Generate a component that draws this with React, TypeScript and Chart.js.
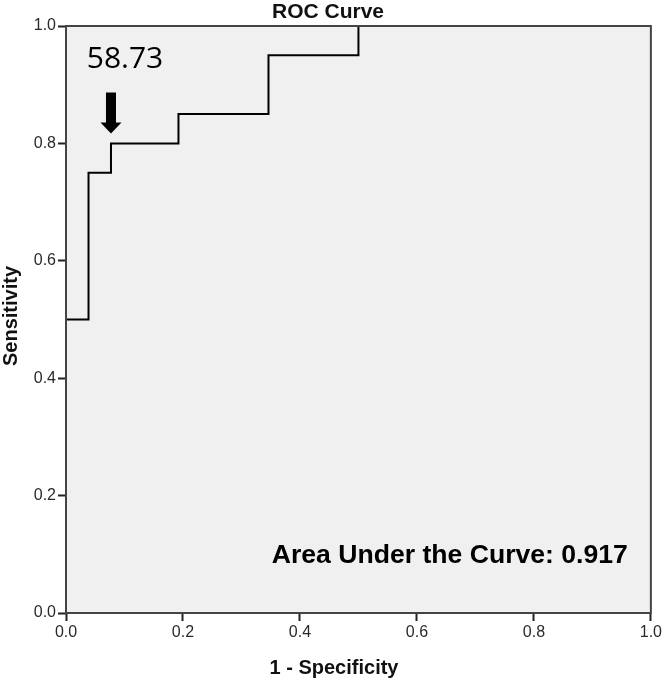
import React, { useEffect, useRef } from "react";
import { Chart, registerables } from "chart.js";

Chart.register(...registerables);

// ROC curve corner points (1 - Specificity, Sensitivity)
const fpr = [0, 0, 0.0385, 0.0385, 0.0769, 0.0769, 0.1923, 0.1923, 0.3462, 0.3462, 0.5, 0.5, 1];
const tpr = [0, 0.5, 0.5, 0.75, 0.75, 0.8, 0.8, 0.85, 0.85, 0.95, 0.95, 1, 1];
const tickValues = [0, 0.2, 0.4, 0.6, 0.8, 1.0];
const chartTitle = "ROC Curve";
const xTitle = "1 - Specificity";
const yTitle = "Sensitivity";
const cutoffLabel = "58.73";
const cutoffIndex = 5;
const aucText = "Area Under the Curve: 0.917";

const FONT = "'Liberation Sans', Arial, sans-serif";

export default function App() {
  const ref = useRef<HTMLCanvasElement | null>(null);

  useEffect(() => {
    const canvas = ref.current;
    if (!canvas) return;
    const decor = {
      id: "decor",
      beforeDatasetsDraw(chart: any) {
        const { ctx, chartArea: a } = chart;
        ctx.save();
        ctx.fillStyle = "#f0f0f0";
        ctx.fillRect(a.left, a.top, a.right - a.left, a.bottom - a.top);
        ctx.restore();
      },
      afterDraw(chart: any) {
        const { ctx, chartArea: a, scales } = chart;
        const W = chart.width;
        ctx.save();
        // frame
        ctx.strokeStyle = "#444";
        ctx.lineWidth = 2;
        ctx.strokeRect(a.left, a.top, a.right - a.left, a.bottom - a.top);
        // titles
        ctx.fillStyle = "#111";
        ctx.font = `bold 21px ${FONT}`;
        ctx.textAlign = "center";
        ctx.textBaseline = "alphabetic";
        ctx.fillText(chartTitle, W / 2 - 4, 18);
        ctx.font = `bold 20px ${FONT}`;
        ctx.fillText(xTitle, W / 2 + 2, 674);
        ctx.save();
        ctx.translate(17, 316);
        ctx.rotate(-Math.PI / 2);
        ctx.fillText(yTitle, 0, 0);
        ctx.restore();
        // cutoff arrow
        const px = scales.x.getPixelForValue(fpr[cutoffIndex]);
        const py = scales.y.getPixelForValue(tpr[cutoffIndex]);
        const tipY = py - 10;
        const topY = tipY - 41;
        ctx.fillStyle = "#000";
        ctx.beginPath();
        ctx.moveTo(px - 5, topY);
        ctx.lineTo(px + 5, topY);
        ctx.lineTo(px + 5, tipY - 11);
        ctx.lineTo(px + 10.5, tipY - 11);
        ctx.lineTo(px, tipY);
        ctx.lineTo(px - 10.5, tipY - 11);
        ctx.lineTo(px - 5, tipY - 11);
        ctx.closePath();
        ctx.fill();
        ctx.font = `30px 'Open Sans', 'Noto Sans', sans-serif`;
        ctx.textAlign = "center";
        ctx.textBaseline = "middle";
        ctx.fillText(cutoffLabel, px + 14, py - 84);
        // AUC text
        ctx.font = `bold 26.6px ${FONT}`;
        ctx.textAlign = "right";
        ctx.textBaseline = "alphabetic";
        ctx.fillText(aucText, a.right - 23, a.bottom - 50);
        ctx.restore();
      },
    };

    const tickCb = (v: any) => Number(v).toFixed(1);
    const chart = new Chart(canvas, {
      type: "scatter",
      data: {
        datasets: [
          {
            data: fpr.map((x, i) => ({ x, y: tpr[i] })),
            showLine: true,
            borderColor: "#000",
            borderWidth: 2,
            pointRadius: 0,
            fill: false,
            clip: false as any,
          },
        ],
      },
      options: {
        animation: false,
        responsive: false,
        layout: { padding: { top: 26, right: 11, left: 0, bottom: 0 } },
        plugins: { legend: { display: false }, tooltip: { enabled: false }, title: { display: false } },
        scales: {
          x: {
            type: "linear",
            min: 0,
            max: 1,
            afterBuildTicks: (s: any) => { s.ticks = tickValues.map((v) => ({ value: v })); },
            afterFit: (s: any) => { s.height = 67; },
            ticks: { callback: tickCb, font: { family: FONT, size: 16 }, color: "#2a2a2a", padding: 2, maxRotation: 0 },
            grid: { drawOnChartArea: false, drawTicks: true, tickLength: 8, tickColor: "#222", tickWidth: 2 },
            border: { display: false },
          },
          y: {
            type: "linear",
            min: 0,
            max: 1,
            afterBuildTicks: (s: any) => { s.ticks = tickValues.map((v) => ({ value: v })); },
            afterFit: (s: any) => { s.width = 66; },
            ticks: { callback: tickCb, font: { family: FONT, size: 16 }, color: "#2a2a2a", padding: 2 },
            grid: { drawOnChartArea: false, drawTicks: true, tickLength: 8, tickColor: "#222", tickWidth: 2 },
            border: { display: false },
          },
        },
      },
      plugins: [decor],
    } as any);
    return () => chart.destroy();
  }, []);

  return (
    <div style={{ position: "fixed", left: 0, top: 0, width: 664, height: 680, background: "#fff" }}>
      <canvas ref={ref} width={664} height={680} style={{ display: "block", width: 664, height: 680 }} />
    </div>
  );
}
